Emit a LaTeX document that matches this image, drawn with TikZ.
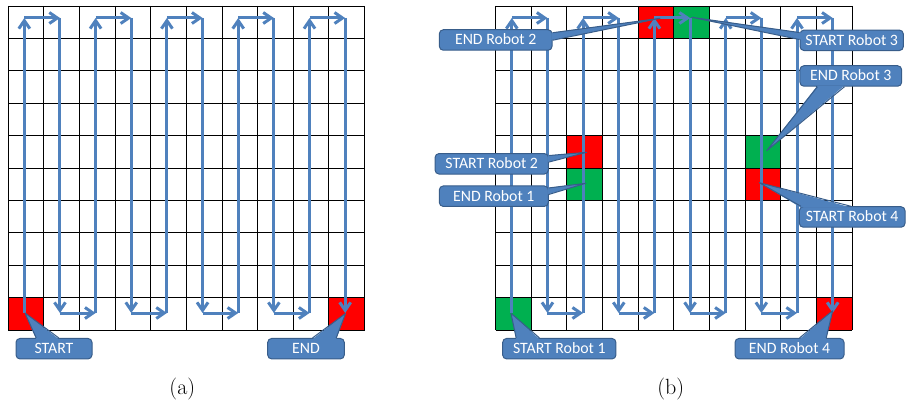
\documentclass[tikz,border=0pt]{standalone}
\usepackage{fontspec}
\newfontfamily\callfont{Carlito}
\usetikzlibrary{arrows.meta,calc}
\definecolor{pathblue}{HTML}{4F81BD}
\definecolor{callfill}{HTML}{4F81BD}
\definecolor{callline}{HTML}{385D8A}
\definecolor{cellred}{HTML}{FF0000}
\definecolor{cellgreen}{HTML}{00B050}
\def\cw{35.65}
\def\ch{32.4}
\def\gy{6}
\def\ax{8}
\def\bx{495.5}
% pointer of a callout on one side of its box: node, offset 1, offset 2, tip
\newcommand\ptrN[4]{%
  \fill[cfill] ($(#1.north west)+(#2,1.2)$) -- (#4) -- ($(#1.north west)+(#3,1.2)$) -- cycle;
  \draw[cline] ($(#1.north west)+(#2,0)$) -- (#4) -- ($(#1.north west)+(#3,0)$);}
\newcommand\ptrS[4]{%
  \fill[cfill] ($(#1.south west)+(#2,-1.2)$) -- (#4) -- ($(#1.south west)+(#3,-1.2)$) -- cycle;
  \draw[cline] ($(#1.south west)+(#2,0)$) -- (#4) -- ($(#1.south west)+(#3,0)$);}
\newcommand\ptrE[4]{%
  \fill[cfill] ($(#1.north east)+(-1.2,#2)$) -- (#4) -- ($(#1.north east)+(-1.2,#3)$) -- cycle;
  \draw[cline] ($(#1.north east)+(0,#2)$) -- (#4) -- ($(#1.north east)+(0,#3)$);}
\newcommand\ptrW[4]{%
  \fill[cfill] ($(#1.north west)+(1.2,#2)$) -- (#4) -- ($(#1.north west)+(1.2,#3)$) -- cycle;
  \draw[cline] ($(#1.north west)+(0,#2)$) -- (#4) -- ($(#1.north west)+(0,#3)$);}
\begin{document}
\begin{tikzpicture}[x=1pt,y=-1pt,
  gridline/.style={black,line width=0.8pt},
  route/.style={pathblue,line width=3pt,-{Straight Barb[length=8pt,width=11pt]}},
  cbox/.style={rectangle,rounded corners=4pt,fill=callfill,draw=callline,line width=1pt,
    text=white,font=\callfont\fontsize{15.8}{18}\selectfont,inner sep=0pt,
    minimum height=20.5pt,text height=10pt,text depth=0pt},
  cfill/.style={fill=callfill},
  cline/.style={draw=callline,line width=1pt,line join=round},
  caption/.style={font=\fontsize{22}{26}\selectfont,inner sep=0pt}]
\useasboundingbox (0,0) rectangle (906,401);

% coloured cells
\newcommand\cell[4]{\fill[#4] ({#1+#2*\cw},{\gy+#3*\ch}) rectangle ({#1+(#2+1)*\cw},{\gy+(#3+1)*\ch});}
\cell{\ax}{0}{9}{cellred}
\cell{\ax}{9}{9}{cellred}
\cell{\bx}{0}{9}{cellgreen}
\cell{\bx}{2}{4}{cellred}
\cell{\bx}{2}{5}{cellgreen}
\cell{\bx}{4}{0}{cellred}
\cell{\bx}{5}{0}{cellgreen}
\cell{\bx}{7}{4}{cellgreen}
\cell{\bx}{7}{5}{cellred}
\cell{\bx}{9}{9}{cellred}

% grids
\foreach \x in {\ax,\bx}{
  \foreach \i in {0,...,10}{
    \draw[gridline] ({\x+\i*\cw},\gy) -- ({\x+\i*\cw},{\gy+10*\ch});
    \draw[gridline] (\x,{\gy+\i*\ch}) -- ({\x+10*\cw},{\gy+\i*\ch});
  }
}

% route turning points
\foreach \g/\x in {a/\ax,b/\bx}{
  \foreach \c in {0,...,9}{
    \coordinate (\g-top-\c) at ({\x+(\c+0.5)*\cw-1.5},18);
    \coordinate (\g-bot-\c) at ({\x+(\c+0.5)*\cw-1.5},313);
  }
}

% routes
\foreach \g in {a,b}{
  \foreach \k in {0,...,4}{
    \pgfmathtruncatemacro\u{2*\k}
    \pgfmathtruncatemacro\d{2*\k+1}
    \pgfmathtruncatemacro\n{2*\k+2}
    \draw[route] (\g-bot-\u) -- (\g-top-\u);
    \draw[route] (\g-top-\u) -- (\g-top-\d);
    \draw[route] (\g-top-\d) -- (\g-bot-\d);
    \ifnum\k<4 \draw[route] (\g-bot-\d) -- (\g-bot-\n); \fi
  }
}

% callouts (a)
\node[cbox,minimum width=76pt] (startA) at (54,348.7) {START};
\coordinate (tip-startA) at (25,313);
\ptrN{startA}{20.7}{43.3}{tip-startA}
\node[cbox,minimum width=76.6pt] (endA) at (306,348.7) {END};
\coordinate (tip-endA) at (345.5,313.5);
\ptrN{endA}{45.3}{69}{tip-endA}

% callouts (b)
\node[cbox,minimum width=112.7pt] (end2) at (495.7,40) {END Robot 2};
\coordinate (tip-end2) at (660,18.3);
\ptrE{end2}{3.5}{11}{tip-end2}

\node[cbox,minimum width=103.3pt] (start3) at (851.7,40.3) {START Robot 3};
\coordinate (tip-start3) at (691.7,17.3);
\ptrW{start3}{3}{10}{tip-start3}

\node[cbox,minimum width=101.7pt] (end3) at (850.8,76) {END Robot 3};
\coordinate (tip-end3) at (766.7,150.7);
\ptrS{end3}{18}{45}{tip-end3}

\node[cbox,minimum width=113.3pt] (start2) at (491.7,163.8) {START Robot 2};
\coordinate (tip-start2) at (586.7,152.3);
\ptrE{start2}{2.5}{9}{tip-start2}

\node[cbox,minimum width=109pt] (end1) at (493.8,196.2) {END Robot 1};
\coordinate (tip-end1) at (585.7,183.3);
\ptrE{end1}{2.5}{9}{tip-end1}

\node[cbox,minimum width=105.7pt] (start4) at (852.2,217) {START Robot 4};
\coordinate (tip-start4) at (759.3,182.7);
\ptrN{start4}{2}{52}{tip-start4}

\node[cbox,minimum width=113.3pt] (start1) at (559.3,348.7) {START Robot 1};
\coordinate (tip-start1) at (511,313.3);
\ptrN{start1}{14}{37.3}{tip-start1}

\node[cbox,minimum width=109pt] (end4) at (789.5,348.7) {END Robot 4};
\coordinate (tip-end4) at (832.7,310.7);
\ptrN{end4}{65}{91.7}{tip-end4}

% captions
\node[caption] (capA) at (182.3,388.8) {(a)};
\node[caption] (capB) at (670.8,388.8) {(b)};
\end{tikzpicture}
\end{document}
